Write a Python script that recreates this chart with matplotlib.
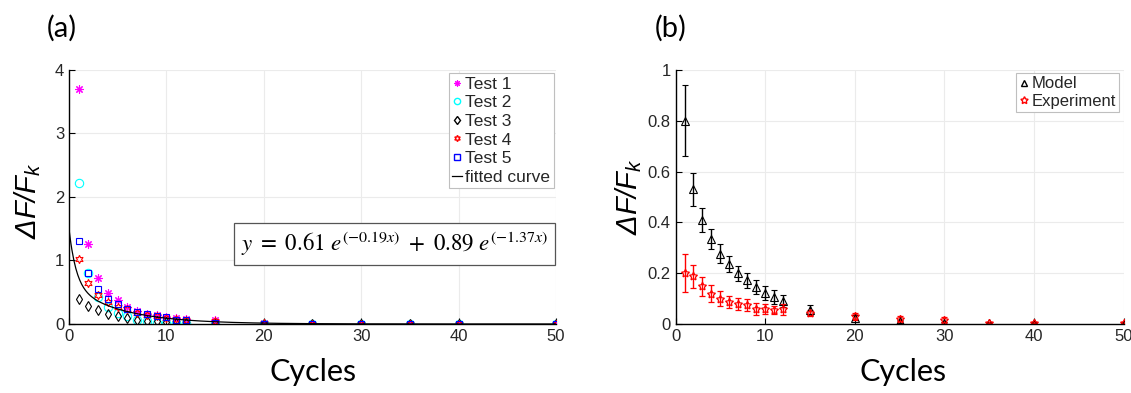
import numpy as np
import matplotlib
matplotlib.use("Agg")
import matplotlib.pyplot as plt
from matplotlib.lines import Line2D

plt.rcParams['font.family'] = ['Liberation Sans', 'DejaVu Sans']
plt.rcParams['mathtext.fontset'] = 'custom'
plt.rcParams['mathtext.rm'] = 'Liberation Sans:italic'
plt.rcParams['mathtext.it'] = 'Liberation Sans:italic'

# ---- panel (a) data ----
cycles_a = [1, 2, 3, 4, 5, 6, 7, 8, 9, 10, 11, 12, 15, 20, 25, 30, 35, 40, 50]
test1 = [3.70, 1.26, 0.72, 0.49, 0.37, 0.27, 0.21, 0.16, 0.14, 0.11, 0.09, 0.08, 0.06, 0.01, 0.0, 0.0, 0.0, 0.0, 0.0]
test2 = [2.22, 0.80, 0.42, 0.27, 0.17, 0.12, 0.07, 0.04, 0.02, 0.01, 0.01, 0.01, 0.0, 0.0, 0.0, 0.0, 0.0, 0.0, 0.0]
test3 = [0.39, 0.29, 0.22, 0.16, 0.12, 0.09, 0.07, 0.05, 0.04, 0.03, 0.02, 0.02, 0.01, 0.0, 0.0, 0.0, 0.0, 0.0, 0.0]
test4 = [1.02, 0.65, 0.45, 0.34, 0.27, 0.23, 0.17, 0.14, 0.12, 0.10, 0.08, 0.07, 0.05, 0.01, 0.0, 0.0, 0.0, 0.0, 0.0]
test5 = [1.30, 0.80, 0.55, 0.40, 0.31, 0.24, 0.19, 0.15, 0.12, 0.11, 0.07, 0.06, 0.02, 0.0, 0.0, 0.0, 0.0, 0.0, 0.0]
test_labels = ['Test 1', 'Test 2', 'Test 3', 'Test 4', 'Test 5']

# fitted curve coefficients (from the equation on the chart)
fit_a1, fit_b1 = 0.61, 0.19
fit_a2, fit_b2 = 0.89, 1.37

# ---- panel (b) data ----
cycles_b = [1, 2, 3, 4, 5, 6, 7, 8, 9, 10, 11, 12, 15, 20, 25, 30, 35, 40, 50]
model = [0.80, 0.53, 0.41, 0.334, 0.277, 0.235, 0.20, 0.172, 0.145, 0.123, 0.106, 0.09, 0.055, 0.024, 0.01, 0.005, 0.003, 0.002, 0.001]
model_err = [0.14, 0.065, 0.048, 0.04, 0.036, 0.032, 0.03, 0.03, 0.028, 0.027, 0.026, 0.023, 0.018, 0.01, 0.005, 0.004, 0.002, 0.002, 0.001]
experiment = [0.20, 0.187, 0.148, 0.119, 0.10, 0.086, 0.078, 0.075, 0.059, 0.059, 0.055, 0.058, 0.042, 0.030, 0.02, 0.016, 0.005, 0.005, 0.004]
experiment_err = [0.075, 0.046, 0.036, 0.033, 0.031, 0.023, 0.024, 0.024, 0.022, 0.02, 0.017, 0.021, 0.012, 0.015, 0.01, 0.01, 0.003, 0.003, 0.002]

tick_color = '#262626'
grid_color = '#ebebeb'

fig = plt.figure(figsize=(11.31, 3.93), dpi=100)
ax1 = fig.add_axes([0.061, 0.1756, 0.4306, 0.6464])
ax2 = fig.add_axes([0.5973, 0.1756, 0.3961, 0.6464])

def style_axes(ax):
    for s in ['top', 'right']:
        ax.spines[s].set_visible(False)
    for s in ['left', 'bottom']:
        ax.spines[s].set_color('black')
        ax.spines[s].set_linewidth(1.0)
    ax.tick_params(direction='in', length=4, width=0.8, colors='black',
                   labelcolor=tick_color, labelsize=12)
    ax.grid(True, color=grid_color, linewidth=0.8)
    ax.set_axisbelow(True)
    ax.set_xlim(0, 50)
    ax.set_xticks([0, 10, 20, 30, 40, 50])

# ---- (a) ----
style_axes(ax1)
ax1.set_ylim(0, 4)
ax1.set_yticks([0, 1, 2, 3, 4])
ax1.plot(cycles_a, test1, linestyle='none', marker=(8, 2, 0), color='magenta',
         markersize=6, markeredgewidth=0.8, label=test_labels[0])
ax1.plot(cycles_a, test2, linestyle='none', marker='o', markerfacecolor='none',
         markeredgecolor='cyan', markersize=6, markeredgewidth=0.8, label=test_labels[1])
ax1.plot(cycles_a, test3, linestyle='none', marker='d', markerfacecolor='none',
         markeredgecolor='black', markersize=5.5, markeredgewidth=0.8, label=test_labels[2])
ax1.plot(cycles_a, test4, linestyle='none', marker=(6, 1, 0), markerfacecolor='none',
         markeredgecolor='red', markersize=6, markeredgewidth=0.8, label=test_labels[3])
ax1.plot(cycles_a, test5, linestyle='none', marker='s', markerfacecolor='none',
         markeredgecolor='blue', markersize=5, markeredgewidth=0.8, label=test_labels[4])
xf = np.linspace(0, 50, 500)
yf = fit_a1 * np.exp(-fit_b1 * xf) + fit_a2 * np.exp(-fit_b2 * xf)
ax1.plot(xf, yf, color='black', linewidth=0.9, label='fitted curve')

handles_a = [
    Line2D([], [], linestyle='none', marker=(8, 2, 0), color='magenta', markersize=4.5, markeredgewidth=0.8),
    Line2D([], [], linestyle='none', marker='o', markerfacecolor='none', markeredgecolor='cyan', markersize=4.5),
    Line2D([], [], linestyle='none', marker='d', markerfacecolor='none', markeredgecolor='black', markersize=4.5),
    Line2D([], [], linestyle='none', marker=(6, 1, 0), markerfacecolor='none', markeredgecolor='red', markersize=4.5),
    Line2D([], [], linestyle='none', marker='s', markerfacecolor='none', markeredgecolor='blue', markersize=4),
    Line2D([], [], color='black', linewidth=0.9),
]
leg1 = ax1.legend(handles_a, test_labels + ['fitted curve'], loc='upper right',
                  bbox_to_anchor=(0.995, 0.988), fontsize=12.5,
                  handlelength=0.6, handletextpad=0.15, borderpad=0.2,
                  labelspacing=0.2, fancybox=False, edgecolor='#bfbfbf',
                  framealpha=1, borderaxespad=0)
leg1.get_frame().set_linewidth(0.8)
for t in leg1.get_texts():
    t.set_color(tick_color)
ax1.text(0.668, 0.315, r'$y\ =\ 0.61\ e^{(-0.19x)}\ +\ 0.89\ e^{(-1.37x)}$',
         transform=ax1.transAxes, ha='center', va='center', fontsize=16.5,
         math_fontfamily='stix',
         bbox=dict(boxstyle='square,pad=0.3', facecolor='white',
                   edgecolor='#555555', linewidth=0.9))

# ---- (b) ----
style_axes(ax2)
ax2.set_ylim(0, 1)
ax2.set_yticks([0, 0.2, 0.4, 0.6, 0.8, 1])
ax2.set_yticklabels(['0', '0.2', '0.4', '0.6', '0.8', '1'])
ax2.errorbar(cycles_b, model, yerr=model_err, linestyle='none', marker='^',
             markerfacecolor='none', markeredgecolor='black', markersize=6,
             markeredgewidth=0.8, ecolor='black', elinewidth=1.0, capsize=2,
             capthick=1.0)
ax2.errorbar(cycles_b, experiment, yerr=experiment_err, linestyle='none',
             marker=(5, 1, 0), markerfacecolor='none', markeredgecolor='red',
             markersize=6, markeredgewidth=0.9, ecolor='red', elinewidth=1.0,
             capsize=2, capthick=1.0)
handles_b = [
    Line2D([], [], linestyle='none', marker='^', markerfacecolor='none', markeredgecolor='black', markersize=5),
    Line2D([], [], linestyle='none', marker=(5, 1, 0), markerfacecolor='none', markeredgecolor='red', markersize=5.5),
]
leg2 = ax2.legend(handles_b, ['Model', 'Experiment'], loc='upper right',
                  bbox_to_anchor=(0.99, 0.988), fontsize=12,
                  handlelength=0.5, handletextpad=0.2, borderpad=0.2,
                  labelspacing=0.15, fancybox=False, edgecolor='#bfbfbf',
                  framealpha=1, borderaxespad=0)
leg2.get_frame().set_linewidth(0.8)
for t in leg2.get_texts():
    t.set_color(tick_color)

# axis labels
fig.text(28 / 1131, 0.489, r'$ΔF/F_k$', rotation=90, ha='center', va='center',
         fontsize=21)
fig.text(629 / 1131, 0.5, r'$ΔF/F_k$', rotation=90, ha='center', va='center',
         fontsize=21)
fig.text(313 / 1131, 1 - 372 / 393, 'Cycles', ha='center', va='center',
         fontsize=22, family=['Lato', 'DejaVu Sans'])
fig.text(903 / 1131, 1 - 372 / 393, 'Cycles', ha='center', va='center',
         fontsize=22, family=['Lato', 'DejaVu Sans'])

# panel tags
fig.text(62 / 1131, 1 - 28 / 393, '(a)', ha='center', va='center',
         fontsize=21, family=['Lato', 'DejaVu Sans'])
fig.text(671 / 1131, 1 - 28 / 393, '(b)', ha='center', va='center',
         fontsize=21, family=['Lato', 'DejaVu Sans'])

fig.savefig('out.png', dpi=100)
